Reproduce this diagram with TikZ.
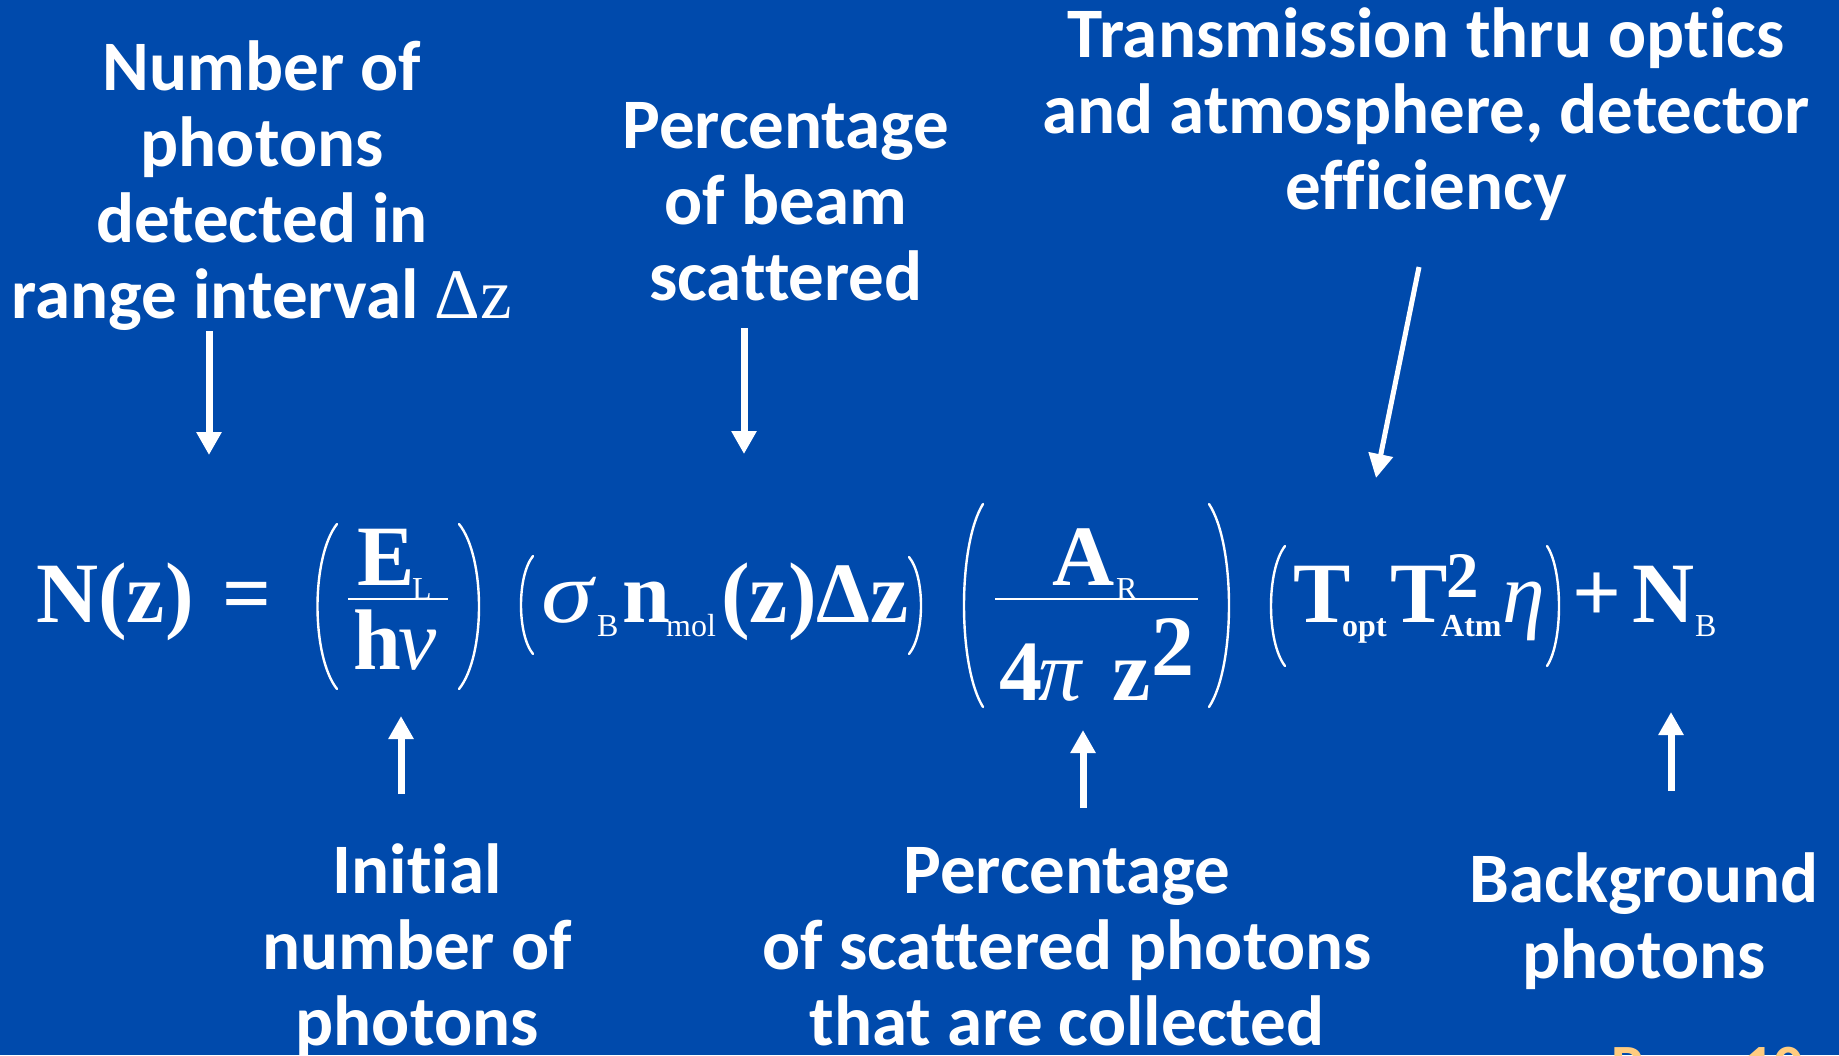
\documentclass[tikz,border=0pt]{standalone}
\usepackage{fontspec}
\usepackage{graphicx}
\usetikzlibrary{arrows.meta}
\newfontfamily\lblf{Carlito}[Ligatures={NoCommon,NoRare,NoDiscretionary}]
\newfontfamily\eqf{Liberation Serif}
\definecolor{bgblue}{HTML}{004AAC}
\definecolor{pageorange}{HTML}{FFCC80}
\newcommand\myLParen[4]{\draw[paren] (#2,#3) .. controls ({#2-(#2-#1)/0.75},{#3+0.2*(#4-#3)}) and ({#2-(#2-#1)/0.75},{#4-0.2*(#4-#3)}) .. (#2,#4);}
\newcommand\myRParen[4]{\draw[paren] (#1,#3) .. controls ({#1+(#2-#1)/0.75},{#3+0.2*(#4-#3)}) and ({#1+(#2-#1)/0.75},{#4-0.2*(#4-#3)}) .. (#1,#4);}
\begin{document}
\begin{tikzpicture}[x=1pt,y=-1pt,
  lbl/.style={font=\lblf\bfseries\fontsize{71}{76}\selectfont, text=white, inner sep=0pt, anchor=base},
  eqb/.style={font=\eqf\bfseries\fontsize{86}{90}\selectfont, text=white, inner sep=0pt, anchor=base west},
  eqi/.style={font=\eqf\itshape\fontsize{86}{90}\selectfont, text=white, inner sep=0pt, anchor=base west},
  eqs/.style={font=\eqf\fontsize{32}{34}\selectfont, text=white, inner sep=0pt, anchor=base west},
  eqsb/.style={font=\eqf\bfseries\fontsize{32}{34}\selectfont, text=white, inner sep=0pt, anchor=base west},
  eqsup/.style={font=\eqf\bfseries\fontsize{65}{68}\selectfont, text=white, inner sep=0pt, anchor=base west},
  paren/.style={draw=white, line width=2.4pt, line cap=round},
  fracbar/.style={draw=white, line width=1.6pt},
  pointer/.style={draw=white, line width=7pt, -{Triangle[width=24pt,length=23pt]}},
  slimpointer/.style={draw=white, line width=5pt, -{Triangle[width=24pt,length=24pt]}},
]
\fill[bgblue] (0,0) rectangle (1839,1055);
\useasboundingbox (0,0) rectangle (1839,1055);
\clip (0,0) rectangle (1839,1055);

% labels
\node[lbl] (lblA) at (262,90) {\begin{tabular}[t]{@{}c@{}}Number of\\photons\\detected in\\range interval {\eqf\mdseries Δz}\end{tabular}};
\node[lbl] (lblB) at (786,148) {\begin{tabular}[t]{@{}c@{}}Percentage\\of beam\\scattered\end{tabular}};
\node[lbl] (lblC) at (1426,57) {\begin{tabular}[t]{@{}c@{}}Transmission thru optics\\and atmosphere, detector\\efficiency\end{tabular}};
\node[lbl] (lblD) at (417,893) {\begin{tabular}[t]{@{}c@{}}Initial\\number of\\photons\end{tabular}};
\node[lbl] (lblE) at (1067,893) {\begin{tabular}[t]{@{}c@{}}Percentage\\of scattered photons\\that are collected\end{tabular}};
\node[lbl] (lblF) at (1644,902) {\begin{tabular}[t]{@{}c@{}}Background\\photons\end{tabular}};
\node[anchor=base west, font=\lblf\bfseries\fontsize{60}{62}\selectfont, text=pageorange, inner sep=0pt] (pg) at (1611,1086) {Page 10};

% equation
\node[eqb] (nz) at (36,622) {N(z)};
\node[eqb, anchor=base] (eqsign) at (247,622) {=};
\myLParen{317.5}{337}{524}{689}
\myRParen{459}{479}{524}{689}
\node[eqb] (el) at (357,585) {E};
\node[eqs] (elsub) at (412,599) {L};
\draw[fracbar] (348,599) -- (448,599);
\node[eqb] (h) at (353,669) {h};
\node[eqi] (nu) at (398,669) {ν};
\myLParen{521}{533}{556}{654}
\myRParen{909}{921}{557}{654}
\node[eqi] (sigma) at (541,622) {\scalebox{1.22}[1.02]{σ}};
\node[eqs] (sigsub) at (597,636) {B};
\node[eqb] (n) at (622,622) {n};
\node[eqs] (nsub) at (666,636) {mol};
\node[eqb] (zdz) at (721,622) {(z)Δz};
\myLParen{964}{983}{504}{707}
\myRParen{1209}{1229}{504}{707}
\node[eqb] (ar) at (1052,585) {A};
\node[eqs] (arsub) at (1116,599) {R};
\draw[fracbar] (995,599) -- (1198,599);
\node[eqb] (four) at (999,700) {4};
\node[eqi] (pi) at (1038,700) {π};
\node[eqb] (zz) at (1112,700) {z};
\node[eqb] (sq) at (1151,675) {2};
\myLParen{1271}{1285}{546}{666}
\myRParen{1547}{1559}{546}{666}
\node[eqb] (t1) at (1293,622) {T};
\node[eqsb] (t1sub) at (1342,636) {opt};
\node[eqb] (t2) at (1390,622) {T};
\node[eqsup] (t2sup) at (1446,597) {2};
\node[eqsb] (t2sub) at (1441,636) {Atm};
\node[eqi] (eta) at (1502,622) {η};
\node[eqb, anchor=base] (plus) at (1597,621) {+};
\node[eqb] (nb) at (1632,622) {N};
\node[eqs] (nbsub) at (1695,636) {B};

% arrows
\coordinate (a1s) at (209,331); \coordinate (a1e) at (209,455);
\coordinate (a2s) at (744,328); \coordinate (a2e) at (744,454);
\coordinate (a3s) at (1419,267); \coordinate (a3e) at (1376,478);
\coordinate (a4s) at (401,794); \coordinate (a4e) at (401,716);
\coordinate (a5s) at (1083,808); \coordinate (a5e) at (1083,730);
\coordinate (a6s) at (1671,791); \coordinate (a6e) at (1671,712);
\draw[pointer] (a1s) -- (a1e);
\draw[pointer] (a2s) -- (a2e);
\draw[slimpointer] (a3s) -- (a3e);
\draw[pointer] (a4s) -- (a4e);
\draw[pointer] (a5s) -- (a5e);
\draw[pointer] (a6s) -- (a6e);
\end{tikzpicture}
\end{document}
